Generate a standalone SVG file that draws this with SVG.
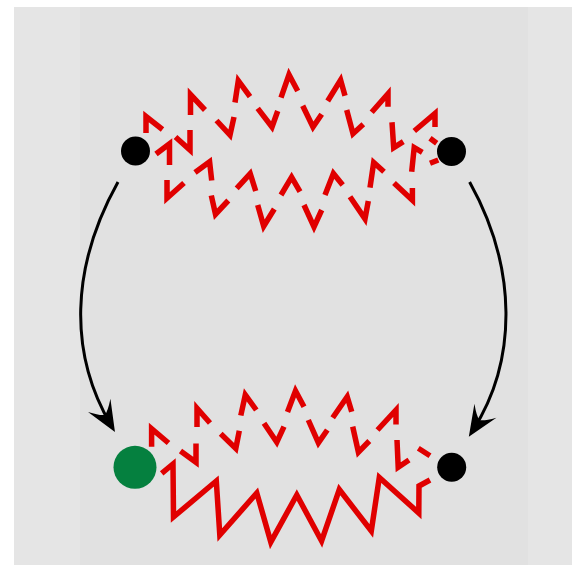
<svg xmlns="http://www.w3.org/2000/svg" width="574" height="565" viewBox="0 0 574 565">
<style>
.bg{fill:#e5e5e5}
.bg2{fill:#e1e1e1}
.zz{fill:none;stroke:#e00000;stroke-width:5.5;stroke-linejoin:miter;stroke-linecap:butt}
.arr{fill:none;stroke:#000;stroke-width:3}
.dot{fill:#000}
.start{fill:#05803f}
</style>
<defs>
<marker id="head" markerUnits="userSpaceOnUse" viewBox="-33 -15 35 30" markerWidth="35" markerHeight="30" refX="-8" refY="0" orient="auto">
<path d="M0,0 L-31,-13 Q-21,-4 -20,0 Q-21,4 -31,13 Z" fill="#000"/>
</marker>
</defs>
<rect x="0" y="0" width="574" height="565" fill="#fff"/>
<rect class="bg" x="14" y="7" width="558" height="558"/>
<rect class="bg2" x="80" y="7" width="448" height="558"/>
<g id="connectors">
<path id="spring-top-upper" class="zz" d="M146,133 L146,116.5 L162.5,129.5 M175.5,137 L190,150 L190,130 M190.5,115 L190.5,94.5 L205,110 M216.5,120.5 L230,135 L234,117 M235,102.5 L238.3,80.7 L250,96.7 M257.7,108.3 L272,127 L277.7,111 M281,97.7 L289,74.7 L297.7,91 M302.7,105.7 L313,127 L321.7,114.3 M327.7,101 L340.6,80 L345,95.7 M346.7,110 L353,133.7 L363.3,124.3 M371.7,112.3 L388,93.8 L388,106.7 M392,122.3 L393.7,147.7 L403.3,141.7 M414.3,131 L435,113.5 L435,127 M430,138.3 L436.7,143.3"/>
<path id="spring-top-lower" class="zz" d="M156,154 L169.5,143.7 L169.5,165 M167,180 L167,198.2 L184,183 M195,172.5 L209.6,161.8 L211.7,180.5 M211.3,195.5 L215.5,214.2 L228.3,200.5 M236.7,188.3 L250.2,173.7 L255.7,191 M257.7,205 L263.7,226.2 L274.3,209 M281,195 L291.6,177.2 L300,191.7 M304,205 L314,226.8 L321.7,210 M325,195 L333.4,173.5 L342.7,185 M350,196.7 L365,218.8 L368.3,201 M370,187.7 L373.7,162.5 L384,171.7 M394,183 L412.4,200.2 L412.4,188 M411.7,171.7 L414.2,147.5 L422.3,152.3 M430,163.3 L438.3,160"/>
<path id="spring-bottom-upper" class="zz" d="M151.6,446.7 L151.6,428.7 L168.5,443 M180.5,451 L196,462.3 L196,443.5 M197,427 L197,408.2 L210,423 M220.7,433.8 L235.8,448.4 L239.3,430.8 M240.8,415.5 L245.3,394.8 L256.3,410 M264,423.3 L276.8,442.2 L284,426.7 M287.5,412 L295.5,390.8 L304,406.7 M308.3,420 L318.4,442.8 L327.3,430 M332.7,417.7 L347.2,396.7 L351.7,411.7 M352.7,426.7 L358.4,452.2 L369.3,441 M377.5,430 L396,410 L396,424.5 M397,440 L398.2,467.2 L409,460 M418.3,448.3 L430,455.7"/>
<path id="spring-bottom-lower" class="zz" d="M161.7,473.3 L173,464 L173.5,517 L216.3,481 L219.8,535 L256.8,493 L270.8,542 L296.8,495 L321.6,541 L339.3,489.5 L371.3,531 L379.3,477.5 L418.8,513 L419,486 L430,480"/>
<path id="arrow-left" class="arr" marker-end="url(#head)" d="M118,182 C70,268 69,354 110.9,425.1"/>
<path id="arrow-right" class="arr" marker-end="url(#head)" d="M469.6,182 C517.5,268 517.5,360 473.1,430.1"/>
</g>
<g id="node-top-left"><circle class="dot" cx="135.5" cy="151" r="14.5"/></g>
<g id="node-top-right"><circle class="dot" cx="451.5" cy="151.5" r="14.5"/></g>
<g id="node-bottom-left"><circle class="start" cx="135" cy="467.3" r="21.5"/></g>
<g id="node-bottom-right"><circle class="dot" cx="451.7" cy="467.3" r="14.5"/></g>
</svg>
